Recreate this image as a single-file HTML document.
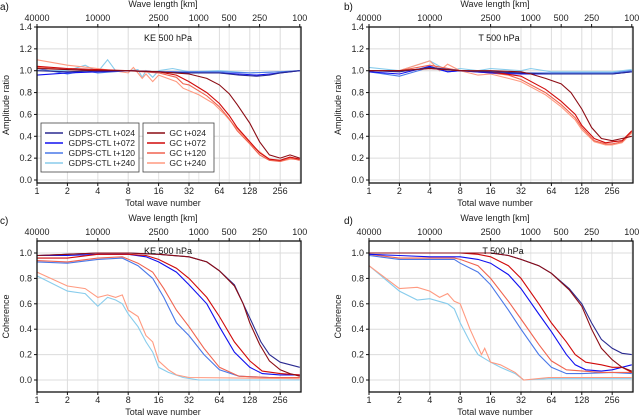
<!DOCTYPE html>
<html><head><meta charset="utf-8"><style>
html,body{margin:0;padding:0;background:#fff;}
svg{display:block;font-family:"Liberation Sans",sans-serif;}
</style></head><body>
<svg id="fig" width="640" height="418" viewBox="0 0 640 418" xmlns="http://www.w3.org/2000/svg"></svg>
<script>
// ---- data ----
const xTicks=[1,2,4,8,16,32,64,128,256];
const topTicks=[40000,10000,2500,1000,500,250,100];
const ampTicks=[0,0.2,0.4,0.6,0.8,1.0,1.2,1.4];
const cohTicks=[0,0.2,0.4,0.6,0.8,1.0];
const seriesNames=["GDPS-CTL t+024","GDPS-CTL t+072","GDPS-CTL t+120","GDPS-CTL t+240","GC t+024","GC t+072","GC t+120","GC t+240"];
const seriesColors=["#2a2a90","#1010f0","#4a78e8","#88ccec","#8c0c14","#d00a0a","#f06450","#ff9a80"];

// panel a: KE amplitude ratio
const ampKE=[
 [[1,1.0],[2,0.99],[4,1.0],[8,1.0],[16,0.99],[32,0.98],[64,0.98],[100,0.96],[150,0.95],[200,0.96],[256,0.98],[400,1.0]],
 [[1,0.96],[2,0.98],[4,0.99],[8,1.0],[16,0.99],[32,0.98],[64,0.98],[100,0.97],[150,0.96],[200,0.97],[256,0.98],[400,1.0]],
 [[1,1.02],[2,0.97],[3,1.0],[4,0.98],[8,1.0],[16,0.99],[32,0.99],[64,0.99],[128,0.98],[256,0.99],[400,1.0]],
 [[1,1.0],[2,1.0],[3,1.05],[4,0.99],[5,1.1],[6,1.0],[8,1.0],[10,1.01],[11,0.94],[12,1.0],[14,0.94],[16,1.0],[22,1.02],[32,0.99],[64,1.0],[128,0.98],[256,0.99],[400,1.0]],
 [[1,1.02],[2,1.01],[4,1.0],[8,1.0],[16,0.99],[32,0.97],[48,0.93],[64,0.87],[80,0.79],[96,0.69],[128,0.52],[160,0.35],[200,0.23],[256,0.2],[320,0.23],[400,0.2]],
 [[1,1.04],[2,1.02],[4,1.01],[8,1.0],[16,0.99],[24,0.96],[32,0.9],[48,0.8],[64,0.7],[80,0.59],[96,0.48],[128,0.35],[160,0.25],[200,0.19],[256,0.18],[320,0.21],[400,0.19]],
 [[1,1.03],[2,1.01],[4,1.0],[8,1.0],[16,0.98],[24,0.94],[28,0.88],[32,0.87],[48,0.77],[64,0.67],[80,0.56],[96,0.45],[128,0.33],[160,0.23],[200,0.18],[256,0.17],[320,0.2],[400,0.18]],
 [[1,1.1],[2,1.05],[4,1.02],[8,0.98],[9,1.03],[11,0.93],[12,0.97],[14,0.9],[16,0.96],[24,0.9],[28,0.84],[40,0.78],[56,0.7],[72,0.6],[100,0.45],[140,0.3],[200,0.19],[256,0.17],[320,0.19],[400,0.19]]
];
// panel b: T amplitude ratio
const ampT=[
 [[1,1.0],[2,0.99],[4,1.03],[8,1.0],[16,0.99],[32,0.98],[64,0.97],[128,0.97],[256,0.97],[400,0.99]],
 [[1,0.99],[2,0.97],[4,1.04],[6,0.99],[8,1.0],[16,0.98],[32,0.97],[64,0.97],[128,0.97],[256,0.97],[400,0.99]],
 [[1,0.99],[2,0.95],[4,1.03],[6,0.99],[8,1.0],[16,0.99],[32,0.98],[64,0.98],[128,0.98],[256,0.98],[400,1.0]],
 [[1,1.03],[2,1.0],[4,1.09],[6,1.0],[8,1.02],[12,1.0],[16,1.02],[32,1.0],[40,1.02],[64,0.99],[128,0.99],[256,0.99],[400,1.01]],
 [[1,1.0],[2,1.0],[4,1.02],[8,1.0],[16,1.0],[32,0.99],[40,0.97],[56,0.93],[80,0.88],[100,0.8],[128,0.65],[160,0.48],[200,0.38],[256,0.36],[320,0.38],[400,0.4]],
 [[1,1.0],[2,1.0],[4,1.02],[8,1.0],[16,0.99],[32,0.95],[56,0.83],[80,0.72],[110,0.6],[128,0.5],[170,0.38],[220,0.34],[256,0.35],[320,0.36],[400,0.45]],
 [[1,1.0],[2,1.0],[4,1.05],[8,1.0],[16,0.98],[24,0.96],[32,0.92],[56,0.8],[80,0.69],[110,0.57],[128,0.48],[170,0.36],[220,0.33],[256,0.33],[320,0.35],[400,0.44]],
 [[1,1.0],[2,1.0],[4,1.09],[5,1.0],[6,1.06],[8,1.0],[12,0.96],[16,0.97],[24,0.93],[32,0.9],[56,0.78],[80,0.67],[110,0.55],[128,0.46],[170,0.35],[220,0.32],[256,0.32],[320,0.34],[400,0.43]]
];
// panel c: KE coherence
const cohKE=[
 [[1,0.98],[2,0.99],[4,1.0],[8,1.0],[16,0.99],[32,0.97],[48,0.93],[64,0.86],[90,0.75],[110,0.6],[135,0.45],[165,0.3],[200,0.2],[256,0.14],[400,0.1]],
 [[1,0.98],[2,0.98],[4,0.99],[8,0.99],[12,0.97],[16,0.93],[24,0.85],[32,0.75],[48,0.6],[64,0.42],[90,0.22],[128,0.1],[170,0.05],[256,0.04],[400,0.04]],
 [[1,0.93],[2,0.92],[4,0.95],[7,0.96],[10,0.9],[14,0.8],[18,0.65],[24,0.45],[32,0.35],[45,0.2],[64,0.08],[100,0.03],[200,0.02],[400,0.02]],
 [[1,0.82],[2,0.7],[3,0.68],[4,0.58],[5,0.65],[6,0.63],[7,0.6],[8,0.52],[10,0.42],[12,0.3],[14,0.22],[16,0.1],[20,0.06],[28,0.02],[40,0.0],[400,0.0]],
 [[1,0.98],[2,0.99],[4,1.0],[8,1.0],[16,0.99],[32,0.97],[48,0.93],[64,0.86],[90,0.74],[110,0.6],[128,0.45],[160,0.28],[200,0.15],[256,0.08],[320,0.05],[400,0.03]],
 [[1,0.96],[2,0.96],[4,0.99],[8,0.99],[12,0.98],[16,0.95],[24,0.88],[32,0.8],[48,0.65],[64,0.5],[90,0.3],[128,0.15],[170,0.07],[256,0.05],[400,0.04]],
 [[1,0.94],[2,0.93],[4,0.96],[7,0.97],[10,0.92],[14,0.85],[18,0.72],[24,0.55],[32,0.42],[45,0.25],[64,0.1],[100,0.03],[200,0.02],[400,0.02]],
 [[1,0.85],[2,0.74],[3,0.72],[4,0.65],[5,0.67],[6,0.65],[7,0.67],[8,0.55],[10,0.5],[12,0.35],[14,0.3],[16,0.15],[20,0.08],[24,0.04],[32,0.02],[400,0.01]]
];
// panel d: T coherence
const cohT=[
 [[1,1.0],[4,1.0],[8,1.0],[16,1.0],[24,0.98],[32,0.95],[48,0.9],[64,0.84],[96,0.72],[128,0.6],[160,0.45],[200,0.32],[256,0.25],[320,0.21],[400,0.2]],
 [[1,0.99],[2,0.98],[4,0.97],[8,0.97],[12,0.95],[16,0.92],[24,0.83],[32,0.72],[48,0.52],[64,0.38],[90,0.2],[110,0.12],[140,0.08],[200,0.07],[256,0.08],[320,0.1],[400,0.12]],
 [[1,0.98],[2,0.95],[4,0.95],[7,0.95],[8,0.92],[12,0.85],[16,0.75],[24,0.55],[32,0.4],[48,0.2],[64,0.1],[90,0.05],[128,0.05],[256,0.06],[400,0.05]],
 [[1,0.9],[2,0.7],[3,0.63],[4,0.64],[6,0.6],[7,0.56],[8,0.45],[10,0.3],[12,0.2],[16,0.14],[20,0.1],[28,0.05],[34,0.0],[60,0.01],[400,0.01]],
 [[1,1.0],[4,1.0],[8,1.0],[16,1.0],[24,0.98],[32,0.95],[48,0.9],[64,0.84],[96,0.71],[128,0.58],[160,0.4],[200,0.25],[256,0.16],[320,0.1],[400,0.07]],
 [[1,1.0],[4,1.0],[8,1.0],[12,0.99],[16,0.97],[24,0.9],[32,0.8],[48,0.6],[64,0.45],[90,0.3],[110,0.2],[140,0.14],[200,0.12],[256,0.1],[320,0.1],[400,0.06]],
 [[1,0.99],[2,0.96],[4,0.96],[7,0.96],[8,0.95],[12,0.9],[16,0.8],[24,0.62],[32,0.48],[48,0.28],[64,0.15],[90,0.08],[200,0.06],[400,0.06]],
 [[1,0.9],[2,0.72],[3,0.73],[4,0.7],[5,0.65],[6,0.68],[7,0.62],[8,0.6],[10,0.4],[13,0.2],[14,0.25],[16,0.14],[20,0.12],[28,0.06],[34,0.0],[60,0.02],[400,0.02]]
];

const NS="http://www.w3.org/2000/svg";
const svg=document.getElementById('fig');
function el(tag,attrs,parent){const e=document.createElementNS(NS,tag);for(const k in attrs)e.setAttribute(k,attrs[k]);(parent||svg).appendChild(e);return e;}
function txt(s,attrs,parent){const e=el('text',attrs,parent);e.textContent=s;return e;}

function panel(cfg){
  const g=el('g',{});
  
  
  const x0=cfg.x0,x1=cfg.x0+264,yT=cfg.yT,yB=cfg.yB;
  const xs=n=>x0+Math.log2(n)*30.4;
  const ys=v=>cfg.yZero - v*cfg.yScale;
  // grid
  xTicks.forEach(t=>{const l=el('line',{x1:xs(t),x2:xs(t),y1:yT,y2:yB,stroke:'#dcdcdc','stroke-width':1},g);});
  topTicks.forEach(t=>{const n=40000/t;const l=el('line',{x1:xs(n),x2:xs(n),y1:yT,y2:yB,stroke:'#e6e6e6','stroke-width':1},g);});
  cfg.yTicks.forEach(t=>{const l=el('line',{x1:x0,x2:x1,y1:ys(t),y2:ys(t),stroke:'#dcdcdc','stroke-width':1},g);});
  // series
  const clip='clip-'+cfg.name;
  const cp=el('clipPath',{id:clip},g);el('rect',{x:x0,y:yT,width:264,height:yB-yT},cp);
  const sg=el('g',{'clip-path':'url(#'+clip+')'},g);
  const order=[3,7,2,6,1,5,0,4];
  order.forEach(i=>{
    const d=cfg.data[i].map((p,k)=>(k?'L':'M')+xs(p[0]).toFixed(1)+','+ys(p[1]).toFixed(1)).join('');
    const p=el('path',{d:d,fill:'none',stroke:seriesColors[i],'stroke-width':1.1},sg);
    
    
  });
  // frame
  const fr=el('rect',{x:x0,y:yT,width:264,height:yB-yT,fill:'none',stroke:'#111','stroke-width':1.3},g);
  
  // bottom ticks
  xTicks.forEach(t=>{el('line',{x1:xs(t),x2:xs(t),y1:yB,y2:yB+3,stroke:'#111'},g);
    const e=txt(String(t),{x:xs(t),y:yB+11,'font-size':9,'text-anchor':'middle',fill:'#222'},g);
    });
  topTicks.forEach(t=>{const n=40000/t;el('line',{x1:xs(n),x2:xs(n),y1:yT,y2:yT-3,stroke:'#111'},g);
    const e=txt(String(t),{x:xs(n),y:yT-6,'font-size':9,'text-anchor':'middle',fill:'#222'},g);
    });
  cfg.yTicks.forEach(t=>{el('line',{x1:x0-3,x2:x0,y1:ys(t),y2:ys(t),stroke:'#111'},g);
    const e=txt(t.toFixed(1),{x:x0-5,y:ys(t)+3,'font-size':9,'text-anchor':'end',fill:'#222'},g);
    });
  const xl=txt('Total wave number',{x:(x0+x1)/2-6,y:yB+23,'font-size':9,'text-anchor':'middle',fill:'#222'},g);
  
  const tl=txt('Wave length [km]',{x:(x0+x1)/2-6,y:yT-20,'font-size':9,'text-anchor':'middle',fill:'#222'},g);
  
  const yl=txt(cfg.ylabel,{x:0,y:0,'font-size':9,'text-anchor':'middle',fill:'#222',transform:'translate('+(x0-28)+','+((yT+yB)/2)+') rotate(-90)'},g);
  
  const pl=txt(cfg.label,{x:cfg.x0-37+(cfg.x0>300?12:0),y:yT-17,'font-size':10,fill:'#111'},g);
  
  const ti=txt(cfg.title,{x:cfg.titleX,y:cfg.titleY,'font-size':9,'text-anchor':'middle',fill:'#111'},g);
  
  return {xs,ys,g};
}

panel({name:'panel-a-ke-amplitude',x0:37,yT:27,yB:183,yZero:180,yScale:153/1.4,yTicks:ampTicks,data:ampKE,ylabel:'Amplitude ratio',label:'a)',title:'KE 500 hPa',titleX:168,titleY:41});
panel({name:'panel-b-t-amplitude',x0:369,yT:27,yB:183,yZero:180,yScale:153/1.4,yTicks:ampTicks,data:ampT,ylabel:'Amplitude ratio',label:'b)',title:'T 500 hPa',titleX:499,titleY:41});
panel({name:'panel-c-ke-coherence',x0:37,yT:241,yB:392,yZero:380,yScale:127,yTicks:cohTicks,data:cohKE,ylabel:'Coherence',label:'c)',title:'KE 500 hPa',titleX:168,titleY:254});
panel({name:'panel-d-t-coherence',x0:369,yT:241,yB:392,yZero:380,yScale:127,yTicks:cohTicks,data:cohT,ylabel:'Coherence',label:'d)',title:'T 500 hPa',titleX:503,titleY:254});

// legend in panel a
const lg=el('g',{});


[[41,123,98],[143,123,71]].forEach(b=>{el('rect',{x:b[0],y:b[1],width:b[2],height:49,fill:'#fff',stroke:'#444','stroke-width':0.8},lg);});
seriesNames.forEach((nm,i)=>{
  const col=i<4?0:1, row=i%4;
  const bx=col?147:45, y=133+row*10;
  const eg=el('g',{},lg);
  
  
  el('line',{x1:bx,x2:bx+18,y1:y,y2:y,stroke:seriesColors[i],'stroke-width':1.5},eg);
  txt(nm,{x:col?206:135,y:y+3,'font-size':8.5,'text-anchor':'end',fill:'#222'},eg);
});
</script>
</body></html>
